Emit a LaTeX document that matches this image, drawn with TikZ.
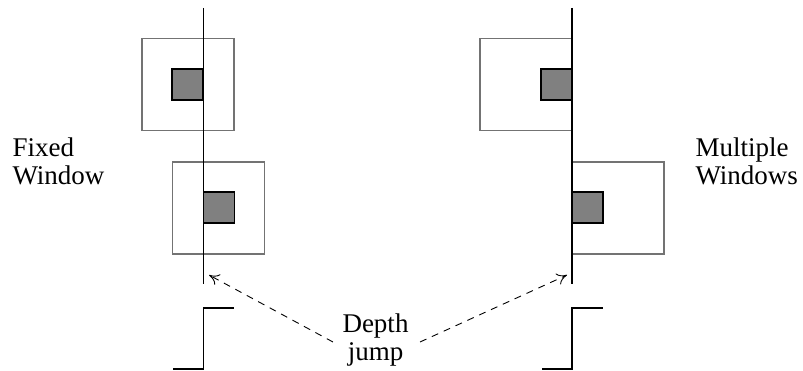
\documentclass[tikz,border=0pt]{standalone}
\usepackage{fontspec}
\setmainfont{Liberation Serif}
\usetikzlibrary{positioning,arrows.meta}

\begin{document}
\begin{tikzpicture}[
  x=1pt,y=-1pt,
  font=\fontsize{27}{28}\selectfont,
  axis/.style={line width=1.9pt},
  win/.style={draw=black!55,line width=1.4pt,minimum width=92pt,minimum height=92pt,inner sep=0pt},
  patch/.style={draw,fill=black!50,line width=1.1pt,minimum size=31pt,inner sep=0pt},
  jumparrow/.style={-{To[length=10pt,width=12pt]},dash pattern=on 7pt off 6pt,line width=0.9pt}
]
\useasboundingbox (0,0) rectangle (803,371);

% fixed window, left
\node[win] (fw1) at (188,84.5) {};
\node[patch] (fp1) at (187.5,84.5) {};
\node[win] (fw2) at (218.5,208) {};
\node[patch] (fp2) at (219,207.5) {};
\coordinate (ltop) at (203.5,8);
\coordinate (lbot) at (203.5,284);
\draw[axis] (ltop) -- (lbot);
\draw[axis] (173,369) -| (203.5,308) -- (234,308);

% multiple windows, right
\node[win] (mw1) at (526,84.5) {};
\node[patch] (mp1) at (556.5,84.5) {};
\node[win] (mw2) at (618,208) {};
\node[patch] (mp2) at (587.5,207.5) {};
\coordinate (rtop) at (572,8);
\coordinate (rbot) at (572,284);
\draw[axis] (rtop) -- (rbot);
\draw[axis] (542,369) -| (572,308) -- (603,308);

% labels
\node[align=left,anchor=west] (fixed) at (9,161) {Fixed\\Window};
\node[align=left,anchor=west] (multi) at (692,161) {Multiple\\Windows};
\node[align=center] (jump) at (375.5,340) {Depth\\jump};

% arrows to the jumps
\coordinate (ltip) at (209,275);
\coordinate (rtip) at (567,275);
\draw[jumparrow] ([xshift=-6pt,yshift=-2pt]jump.west) -- (ltip);
\draw[jumparrow] ([xshift=8pt,yshift=-2pt]jump.east) -- (rtip);
\end{tikzpicture}
\end{document}
